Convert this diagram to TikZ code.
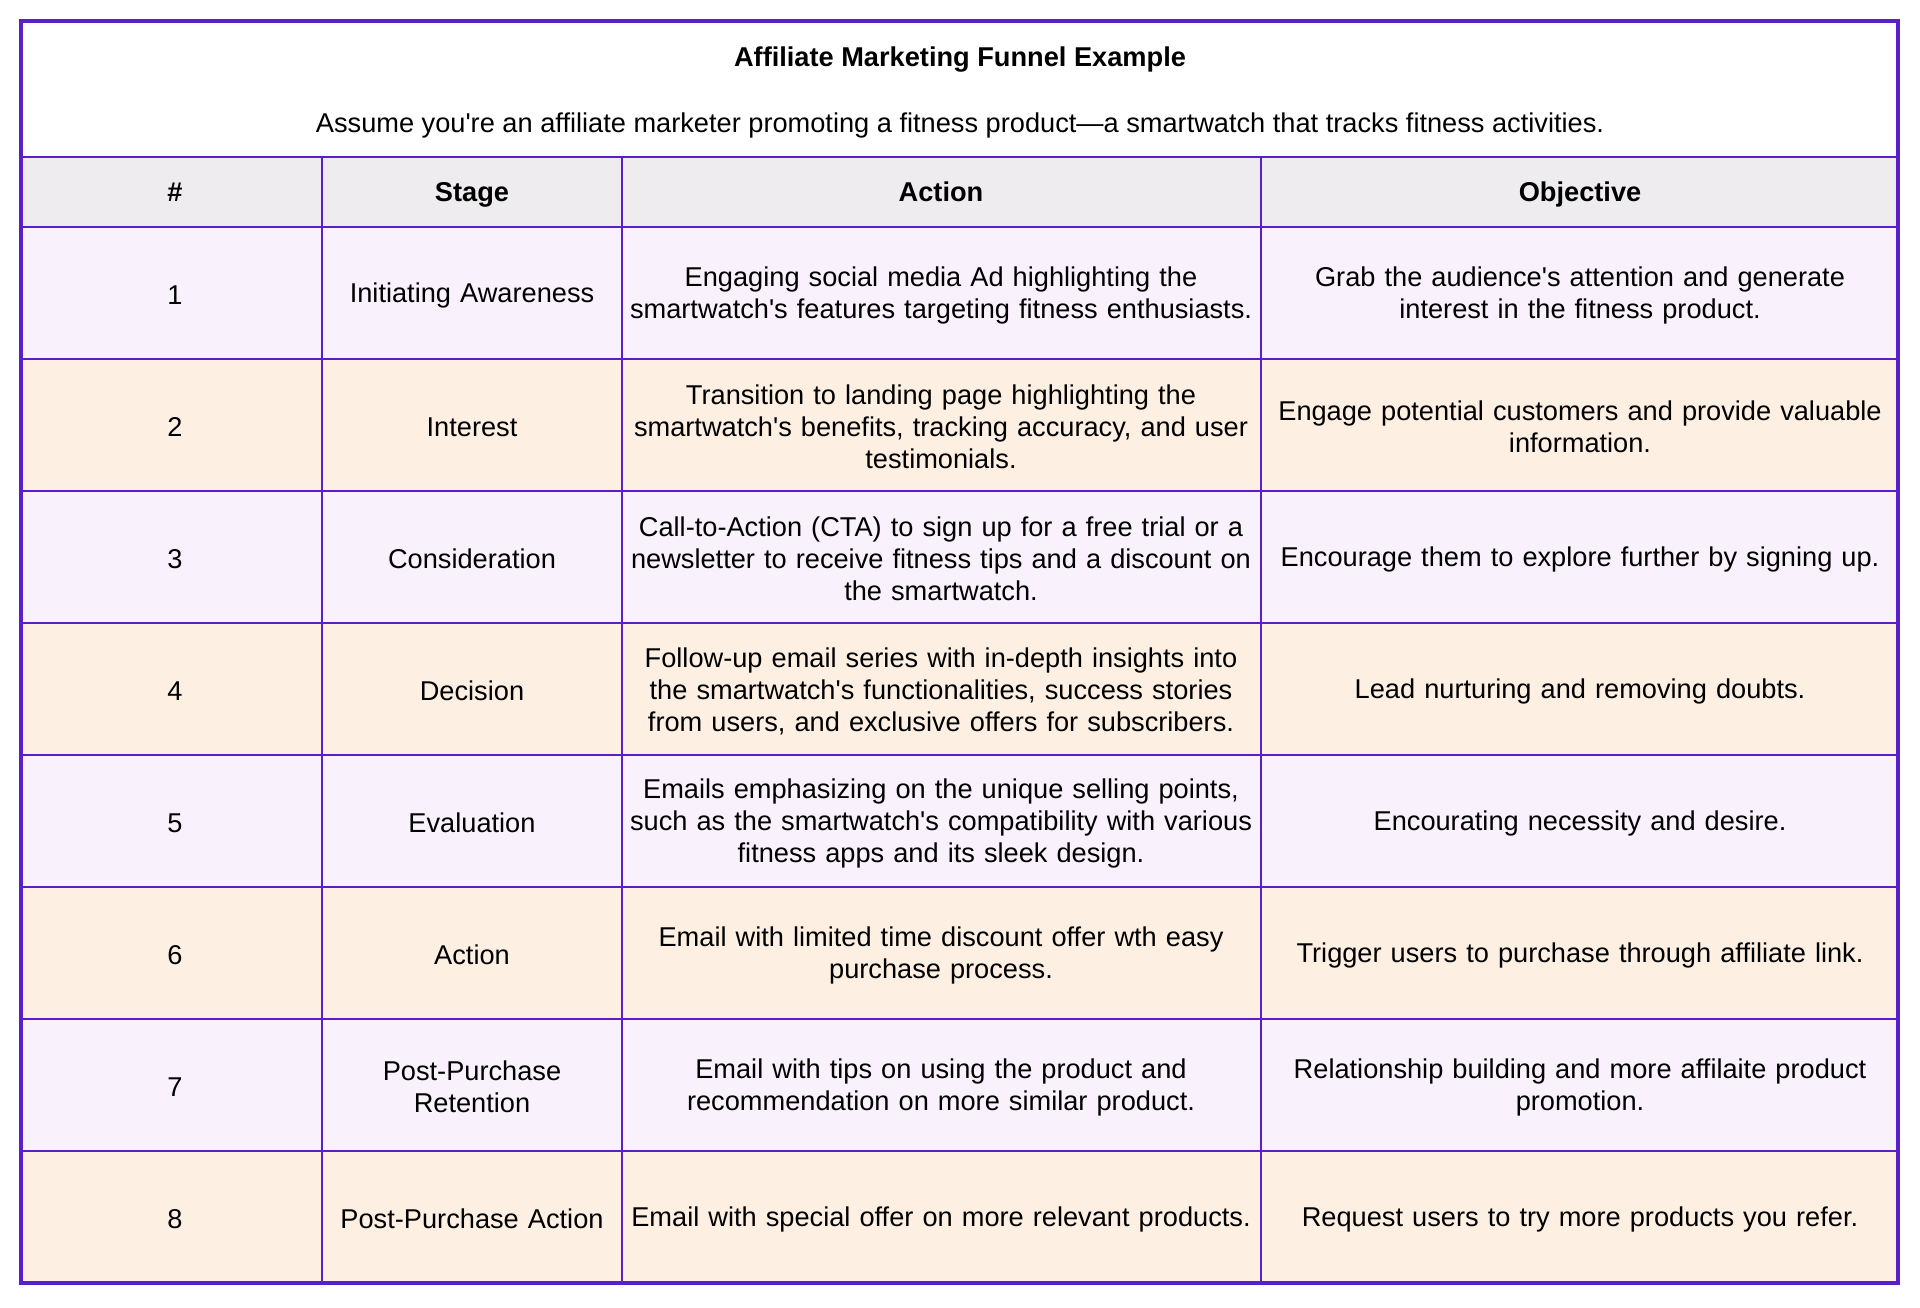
\documentclass[tikz,border=0pt]{standalone}
\usepackage{fontspec}
\setmainfont{Liberation Sans}[Ligatures=TeXOff]
\definecolor{pur}{HTML}{5B1FC9}
\definecolor{hdr}{HTML}{EEECEF}
\definecolor{lav}{HTML}{F9F1FC}
\definecolor{pch}{HTML}{FDF0E2}
\tikzset{txt/.style={align=center,font=\fontsize{13.6}{16}\selectfont,inner sep=0pt},
hd/.style={txt,anchor=mid,font=\fontsize{13.6}{16}\selectfont\bfseries},
grid/.style={draw=pur,line width=1pt}}
\begin{document}
\begin{tikzpicture}[x=0.5pt,y=-0.5pt]
\useasboundingbox (0,0) rectangle (1920,1307);
\fill[white] (0,0) rectangle (1920,1307);
\fill[hdr] (21,157) rectangle (1898,227);
\foreach \a/\b/\c in {227/359/lav,359/491/pch,491/623/lav,623/755/pch,755/887/lav,887/1019/pch,1019/1151/lav,1151/1283/pch}
 \fill[\c] (21,\a) rectangle (1898,\b);
\foreach \y in {157,227,359,491,623,755,887,1019,1151}
 \draw[grid] (21,\y) -- (1898,\y);
\foreach \x in {322,622,1261}
 \draw[grid] (\x,157) -- (\x,1283);
\draw[draw=pur,line width=2.2pt] (21,21) rectangle (1898,1283);
\node[hd] (title) at (960,61) {Affiliate Marketing Funnel Example};
\node[txt,anchor=mid] (sub) at (960,127) {Assume you're an affiliate marketer promoting a fitness product—a smartwatch that tracks fitness activities.};
\node[hd] (h1) at (175,196) {\#};
\node[hd] (h2) at (472,196) {Stage};
\node[hd] (h3) at (941,196) {Action};
\node[hd] (h4) at (1580,196) {Objective};
\newcommand\tabrow[5]{%
\node[txt] (n#1) at (175,#2+2) {#1};
\node[txt,text width=296] (s#1) at (472,#2+2) {#3};
\node[txt,text width=636] (a#1) at (941,#2+2) {#4};
\node[txt,text width=636] (o#1) at (1580,#2+2) {#5};}
\tabrow{1}{293}{Initiating Awareness}{Engaging social media Ad highlighting the\\smartwatch's features targeting fitness enthusiasts.}{Grab the audience's attention and generate\\interest in the fitness product.}
\tabrow{2}{425}{Interest}{Transition to landing page highlighting the\\smartwatch's benefits, tracking accuracy, and user\\testimonials.}{Engage potential customers and provide valuable\\information.}
\tabrow{3}{557}{Consideration}{Call-to-Action (CTA) to sign up for a free trial or a\\newsletter to receive fitness tips and a discount on\\the smartwatch.}{Encourage them to explore further by signing up.}
\tabrow{4}{689}{Decision}{Follow-up email series with in-depth insights into\\the smartwatch's functionalities, success stories\\from users, and exclusive offers for subscribers.}{Lead nurturing and removing doubts.}
\tabrow{5}{821}{Evaluation}{Emails emphasizing on the unique selling points,\\such as the smartwatch's compatibility with various\\fitness apps and its sleek design.}{Encourating necessity and desire.}
\tabrow{6}{953}{Action}{Email with limited time discount offer wth easy\\purchase process.}{Trigger users to purchase through affiliate link.}
\tabrow{7}{1085}{Post-Purchase\\Retention}{Email with tips on using the product and\\recommendation on more similar product.}{Relationship building and more affilaite product\\promotion.}
\tabrow{8}{1217}{Post-Purchase Action}{Email with special offer on more relevant products.}{Request users to try more products you refer.}
\end{tikzpicture}
\end{document}
